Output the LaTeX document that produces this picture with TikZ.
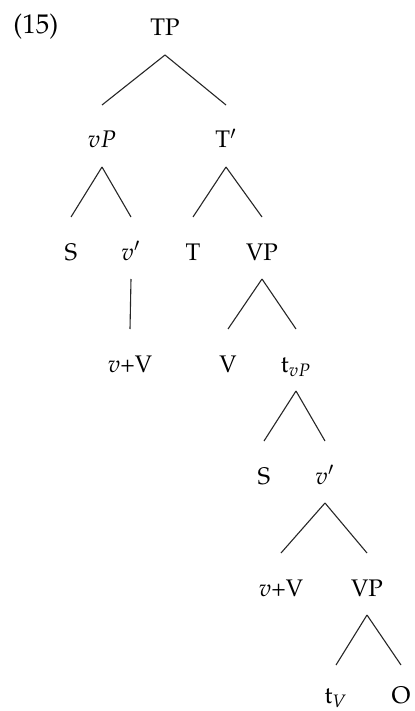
\documentclass[tikz,border=0pt]{standalone}
\usepackage[T1]{fontenc}
\usepackage{mathpazo}
\usetikzlibrary{calc}
\begin{document}
\begin{tikzpicture}[x=0.5pt,y=-0.5pt,
  lbl/.style={anchor=base,inner sep=0pt,font=\fontsize{12}{14}\selectfont},
  br/.style={line width=0.55pt,black!85}]
\useasboundingbox (0,0) rectangle (414,711);
% labels
\node[lbl,anchor=base west,font=\fontsize{13.5}{15}\selectfont] (ex) at (13,34) {(15)};
\node[lbl] (TP) at (165,36) {TP};
\node[lbl] (vP) at (102,148) {$vP$};
\node[lbl] (Tb) at (226,148) {T$'$};
\node[lbl] (S1) at (71,260) {S};
\node[lbl] (vb1) at (131,260) {$v'$};
\node[lbl] (T) at (193,260) {T};
\node[lbl] (VP1) at (262,260) {VP};
\node[lbl] (vV1) at (130,372) {$v$+V};
\node[lbl] (V) at (228,372) {V};
\node[lbl] (tvP) at (296,372) {t$_{vP}$};
\node[lbl] (S2) at (264,484) {S};
\node[lbl] (vb2) at (325,484) {$v'$};
\node[lbl] (vV2) at (281,596) {$v$+V};
\node[lbl] (VP2) at (367,596) {VP};
\node[lbl] (tV) at (336,703) {t$_V$};
\node[lbl] (O) at (401,703) {O};
% branches
\foreach \p/\c in {TP/vP,TP/Tb,vP/S1,vP/vb1,Tb/T,Tb/VP1,VP1/V,VP1/tvP,tvP/S2,tvP/vb2,vb2/vV2,vb2/VP2}
  \draw[br] ($(\p.base)+(0,19)$) -- ($(\c.base)+(0,-43)$);
\foreach \c in {tV,O}
  \draw[br] ($(VP2.base)+(0,19)$) -- ($(\c.base)+(0,-38)$);
\draw[br] ($(vb1.base)+(0,19)$) -- ($(vV1.base)+(0,-43)$);
\end{tikzpicture}
\end{document}
